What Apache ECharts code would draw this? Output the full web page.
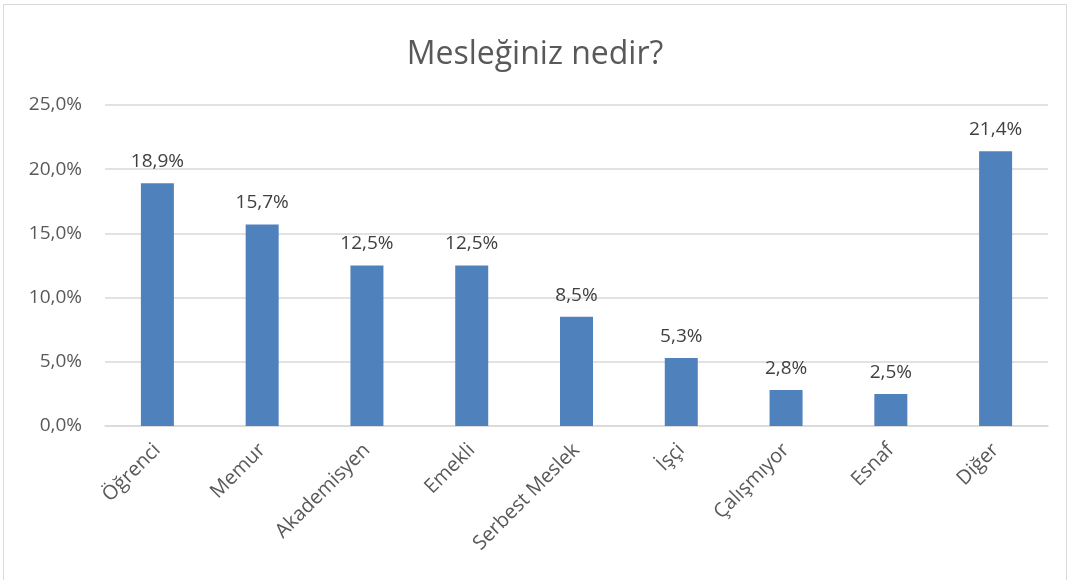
<!DOCTYPE html>
<html><head><meta charset="utf-8">
<script src="https://cdn.jsdelivr.net/npm/echarts@6/dist/echarts.min.js"></script>
<style>
html,body{margin:0;padding:0;background:#fff;}
#frame{position:absolute;left:3px;top:4px;width:1064px;height:600px;border:1.5px solid #d9d9d9;box-sizing:border-box;}
#c{position:absolute;left:0;top:0;width:1070px;height:580px;}
</style></head>
<body><div id="frame"></div><div id="c"></div>
<script>
const categories = ['Öğrenci','Memur','Akademisyen','Emekli','Serbest Meslek','İşçi','Çalışmıyor','Esnaf','Diğer'];
const values = [18.9, 15.7, 12.5, 12.5, 8.5, 5.3, 2.8, 2.5, 21.4];
const titleText = 'Mesleğiniz nedir?';
const fmt = v => v.toFixed(1).replace('.', ',') + '%';
const font = '"Open Sans", sans-serif';
const chart = echarts.init(document.getElementById('c'));
chart.setOption({
  animation: false,
  title: {text: titleText, left: 'center', top: 34,
    textStyle: {fontFamily: font, fontSize: 32, fontWeight: 'normal', color: '#595959'}},
  grid: {left: 105, right: 22, top: 105, bottom: 154},
  xAxis: {type: 'category', data: categories,
    axisLine: {lineStyle: {color: '#d9d9d9', width: 1.5}},
    axisTick: {show: false},
    axisLabel: {rotate: 45, interval: 0, margin: 21, fontFamily: font, fontSize: 20, color: '#595959'}},
  yAxis: {type: 'value', min: 0, max: 25, interval: 5,
    axisLine: {show: false}, axisTick: {show: false},
    splitLine: {lineStyle: {color: '#d9d9d9', width: 1.5}},
    axisLabel: {formatter: fmt, margin: 23, fontFamily: font, fontSize: 19, color: '#595959'}},
  series: [{type: 'bar', data: values, barWidth: 33,
    itemStyle: {color: '#4f81bd'},
    label: {show: true, position: 'top', distance: 12, formatter: p => fmt(p.value),
      fontFamily: font, fontSize: 19, color: '#404040'}}]
});
</script></body></html>
